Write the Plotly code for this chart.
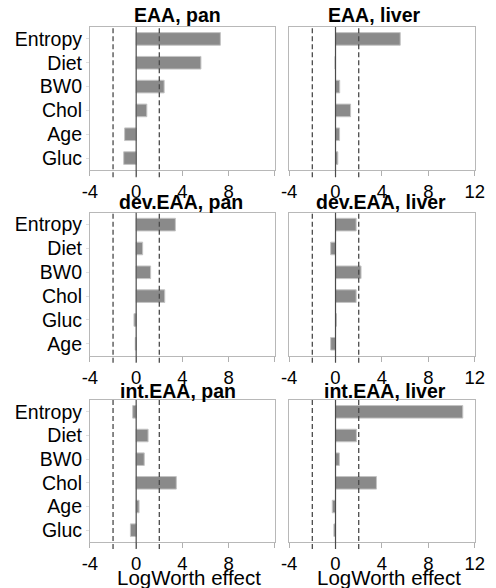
import plotly.graph_objects as go

# ---- data ----
eaa_cats = ["Entropy", "Diet", "BW0", "Chol", "Age", "Gluc"]
eaa_pan = [7.28, 5.6, 2.42, 0.92, -1.0, -1.08]
eaa_liver = [5.58, -0.05, 0.36, 1.3, 0.35, 0.2]

dev_cats = ["Entropy", "Diet", "BW0", "Chol", "Gluc", "Age"]
dev_pan = [3.39, 0.56, 1.25, 2.47, -0.19, -0.08]
dev_liver = [1.78, -0.42, 2.2, 1.78, 0.08, -0.42]

int_cats = ["Entropy", "Diet", "BW0", "Chol", "Age", "Gluc"]
int_pan = [-0.3, 1.03, 0.7, 3.47, 0.25, -0.5]
int_liver = [10.97, 1.8, 0.33, 3.53, -0.28, -0.14]

panel_titles = ["EAA, pan", "EAA, liver", "dev.EAA, pan", "dev.EAA, liver",
                "int.EAA, pan", "int.EAA, liver"]
x_ticks = [-4, 0, 4, 8, 12]
threshold = 2
axis_title = "LogWorth effect"

# ---- layout geometry (pixels) ----
W, H = 496, 588
FONT = "Liberation Sans, Arial, Helvetica, sans-serif"
col_px = [(85, 277), (291.7, 484.3)]
row_px = [(27, 170), (212.7, 355.7), (400, 542)]
title_cx = [176, 380, 180, 387, 176, 391]
title_cy = [15, 202, 391]

panels = [
    (eaa_cats, eaa_pan), (eaa_cats, eaa_liver),
    (dev_cats, dev_pan), (dev_cats, dev_liver),
    (int_cats, int_pan), (int_cats, int_liver),
]

fig = go.Figure()
layout = {}
shapes = []
annotations = []

for i, (cats, vals) in enumerate(panels):
    r, c = divmod(i, 2)
    n = i + 1
    xa = "x" if n == 1 else f"x{n}"
    ya = "y" if n == 1 else f"y{n}"
    fig.add_trace(go.Bar(
        x=vals, y=cats, orientation="h", xaxis=xa, yaxis=ya,
        width=0.53, marker=dict(color="#8a8a8a", line=dict(color="#c4c4c4", width=1)),
        showlegend=False,
    ))
    x0, x1 = col_px[c]
    yt, yb = row_px[r]
    ticktext = [str(t) for t in x_ticks]
    if c == 0:
        ticktext[-1] = ""
    layout["xaxis" if n == 1 else f"xaxis{n}"] = dict(
        domain=[x0 / W, x1 / W], anchor=ya, range=[-4, 12],
        tickmode="array", tickvals=x_ticks, ticktext=ticktext,
        ticks="outside", ticklen=5, tickcolor="#b0b0b0", tickwidth=1,
        showline=True, linecolor="#b8b8b8", linewidth=1, mirror=True,
        showgrid=False, zeroline=False,
        tickfont=dict(family=FONT, size=18.5, color="black"),
    )
    layout["yaxis" if n == 1 else f"yaxis{n}"] = dict(
        domain=[1 - yb / H, 1 - yt / H], anchor=xa,
        type="category", categoryorder="array", categoryarray=cats,
        range=[5.5, -0.5],
        showticklabels=(c == 0), ticks="outside" if c == 0 else "",
        ticklen=3, tickcolor="#e0e0e0",
        showline=True, linecolor="#b8b8b8", linewidth=1, mirror=True,
        showgrid=False, zeroline=False,
        tickfont=dict(family=FONT, size=19.5, color="black"),
    )
    # zero line and +/- threshold dashed lines (extend slightly below frame)
    shapes.append(dict(type="line", xref=xa, yref=f"{ya} domain",
                       x0=0, x1=0, y0=-0.05, y1=1,
                       line=dict(color="#4a4a4a", width=1.2)))
    for t in (-threshold, threshold):
        shapes.append(dict(type="line", xref=xa, yref=f"{ya} domain",
                           x0=t, x1=t, y0=-0.05, y1=1,
                           line=dict(color="#4a4a4a", width=1.3, dash="5px,3px")))
    annotations.append(dict(
        text=f"<b>{panel_titles[i]}</b>", x=title_cx[i] / W, y=1 - title_cy[r] / H,
        xref="paper", yref="paper", xanchor="center", yanchor="middle",
        showarrow=False, font=dict(family=FONT, size=19.5, color="black"),
    ))

for cx in (188, 395):
    annotations.append(dict(
        text=axis_title, x=cx / W, y=1 - 577 / H, xref="paper", yref="paper",
        xanchor="center", yanchor="middle", showarrow=False,
        font=dict(family=FONT, size=20.5, color="black"),
    ))

fig.update_layout(
    **layout,
    width=W, height=H,
    margin=dict(l=0, r=0, t=0, b=0),
    paper_bgcolor="white", plot_bgcolor="white",
    shapes=shapes, annotations=annotations,
    bargap=0.4,
)

fig.write_html("out.html", config={"displayModeBar": False})
